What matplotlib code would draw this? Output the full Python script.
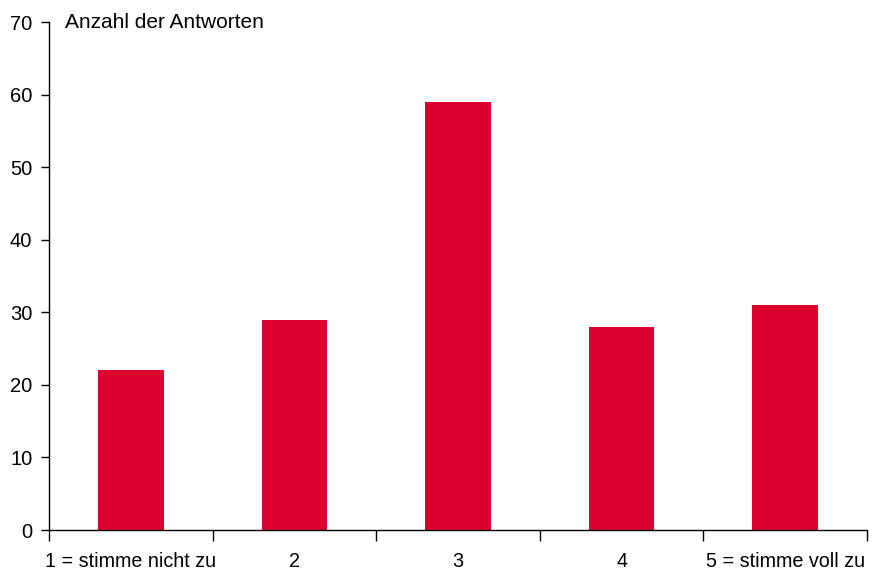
import matplotlib
matplotlib.use("Agg")
import matplotlib.pyplot as plt

categories = ["1 = stimme nicht zu", "2", "3", "4", "5 = stimme voll zu"]
answers = [22, 29, 59, 28, 31]
y_ticks = [0, 10, 20, 30, 40, 50, 60, 70]

plt.rcParams['font.family'] = ['Liberation Sans', 'DejaVu Sans']

fig = plt.figure(figsize=(8.77, 5.74), dpi=100)
ax = fig.add_axes([49 / 877, 44 / 574, 818 / 877, 508 / 574])

positions = list(range(len(categories)))
ax.bar(positions, answers, width=0.4, color="#DC0030")

ax.set_xlim(-0.5, len(categories) - 0.5)
ax.set_ylim(0, 70)
ax.set_yticks(y_ticks)
ax.set_yticklabels([str(t) for t in y_ticks], fontsize=14.5)

# category labels centred, tick marks on the boundaries
ax.set_xticks(positions)
ax.set_xticklabels(categories, fontsize=14.2)
ax.tick_params(axis="x", which="major", length=0, pad=16)
ax.set_xticks([p - 0.5 for p in positions] + [len(categories) - 0.5], minor=True)
ax.tick_params(axis="x", which="minor", length=8, width=1, direction="out")
ax.tick_params(axis="y", length=6, width=1, direction="out", pad=6)

for side in ["top", "right"]:
    ax.spines[side].set_visible(False)
ax.spines["left"].set_linewidth(1)
ax.spines["bottom"].set_linewidth(1)

ax.text(0.02, 1.0, "Anzahl der Antworten", transform=ax.transAxes,
        fontsize=15, va="center", ha="left")

fig.savefig("out.png", dpi=100)
